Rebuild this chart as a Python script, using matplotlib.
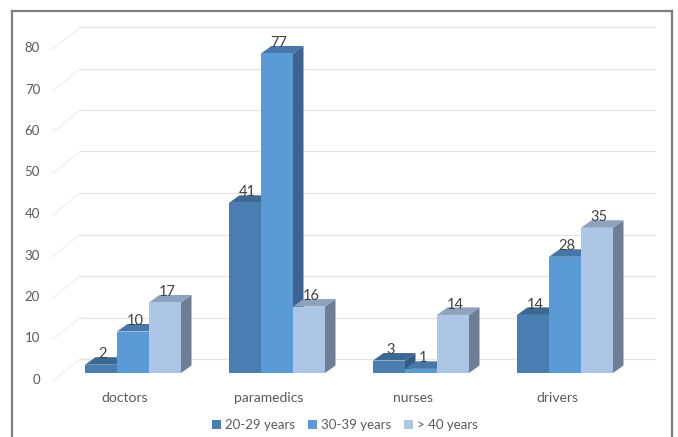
import matplotlib
matplotlib.use("Agg")
import matplotlib.pyplot as plt
from matplotlib.patches import Polygon, Patch
from matplotlib.lines import Line2D

plt.rcParams['font.family'] = ['Lato', 'DejaVu Sans']

# ---- data -------------------------------------------------------------
categories = ["doctors", "paramedics", "nurses", "drivers"]
series_names = ["20-29 years", "30-39 years", "> 40 years"]
age_20_29 = [2, 41, 3, 14]
age_30_39 = [10, 77, 1, 28]
age_40_plus = [17, 16, 14, 35]
series_values = [age_20_29, age_30_39, age_40_plus]
y_ticks = [0, 10, 20, 30, 40, 50, 60, 70, 80]

# ---- styling ----------------------------------------------------------
front_colors = ["#4A7EB2", "#5B9BD5", "#ADC6E6"]
top_colors = ["#3C6894", "#4677A8", "#8DA2BD"]
side_colors = ["#345B82", "#3B6590", "#6D7F95"]
label_color = "#404040"
tick_color = "#595959"
grid_color = "#E4E4E4"

W, H, DPI = 678, 437, 100
PX_PER_CAT = 144.0       # pixels between category centres
PX_PER_UNIT = 4.15       # pixels per value unit
X0_PX, Y0_PX = 133.0, 373.0  # first category centre / floor front (px from top-left)

fig = plt.figure(figsize=(W / DPI, H / DPI), dpi=DPI)
ax = fig.add_axes([0, 0, 1, 1])
ax.set_xlim(-X0_PX / PX_PER_CAT, (W - X0_PX) / PX_PER_CAT)
ax.set_ylim(-(H - Y0_PX) / PX_PER_UNIT, Y0_PX / PX_PER_UNIT)
ax.axis("off")


def dx(px):
    return px / PX_PER_CAT


def dy(px):
    return px / PX_PER_UNIT


# back wall gridlines and the slanted floor/label connectors
wall_left, wall_right = dx(80 - X0_PX), dx(655 - X0_PX)
wall_shift = dy(14)
for v in y_ticks:
    ax.plot([wall_left, wall_right], [v + wall_shift, v + wall_shift],
            color=grid_color, lw=0.9, zorder=1)
    ax.plot([dx(53 - X0_PX), wall_left], [v - dy(8), v + wall_shift],
            color="#EDEDED", lw=0.8, zorder=1)
    ax.text(dx(40 - X0_PX), v - dy(7), str(v), ha="right", va="center",
            fontsize=9.5, color=tick_color)

# 3D-looking columns
bar_w = dx(32)
depth_x, depth_y = dx(10.5), dy(7.5)
for i, cat in enumerate(categories):
    for j, vals in enumerate(series_values):
        v = vals[i]
        xc = i + (j - 1) * bar_w
        x0, x1 = xc - bar_w / 2, xc + bar_w / 2
        z = 10 + i * 10 + j * 3
        side = Polygon([(x1, 0), (x1 + depth_x, depth_y),
                        (x1 + depth_x, v + depth_y), (x1, v)],
                       closed=True, facecolor=side_colors[j], edgecolor="none", zorder=z)
        top = Polygon([(x0, v), (x1, v), (x1 + depth_x, v + depth_y),
                       (x0 + depth_x, v + depth_y)],
                      closed=True, facecolor=top_colors[j], edgecolor="none", zorder=z + 1)
        ax.add_patch(side)
        ax.add_patch(top)
        ax.bar(xc, v, width=bar_w, bottom=0, color=front_colors[j],
               edgecolor="none", zorder=z + 2)
        ax.text(xc + dx(2), v + depth_y * 0.85, str(v), ha="center", va="baseline",
                fontsize=10.5, color=label_color, zorder=100)

# category labels
for i, cat in enumerate(categories):
    ax.text(i - dx(8), dy(Y0_PX - 398), cat, ha="center", va="center",
            fontsize=10, color=tick_color)

# legend
handles = [Patch(facecolor=c, edgecolor="none") for c in front_colors]
fig.legend(handles, series_names, loc="center",
           bbox_to_anchor=(345 / W, 1 - 425 / H), ncol=3, frameon=False,
           fontsize=9.5, handlelength=0.7, handleheight=0.7,
           handletextpad=0.3, columnspacing=0.95, labelcolor=tick_color)

# outer frame
frame_kw = dict(color="#7F7F7F", lw=1.6, transform=fig.transFigure)
fig.add_artist(Line2D([12 / W, 12 / W], [0, 1 - 11 / H], **frame_kw))
fig.add_artist(Line2D([12 / W, 672 / W], [1 - 11 / H, 1 - 11 / H], **frame_kw))
fig.add_artist(Line2D([672 / W, 672 / W], [0, 1 - 11 / H], **frame_kw))

fig.savefig("out.png", dpi=DPI)
